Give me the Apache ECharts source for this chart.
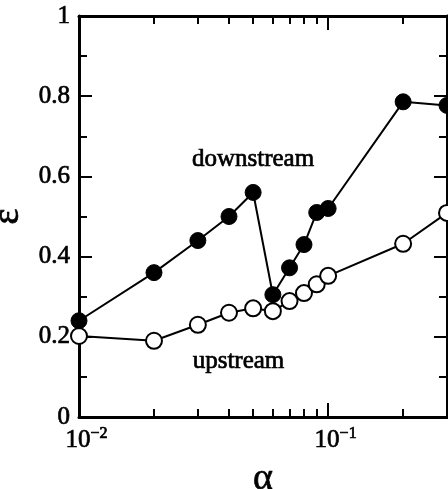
<!DOCTYPE html>
<html>
<head>
<meta charset="utf-8">
<script src="https://cdn.jsdelivr.net/npm/echarts@6/dist/echarts.min.js"></script>
<style>
  html, body { margin: 0; padding: 0; background: #fff; }
  #chart { width: 448px; height: 489px; }
</style>
</head>
<body>
<div id="chart"></div>
<script>
// alpha values (log scale) shared by both curves
const alpha = [0.01, 0.02, 0.03, 0.04, 0.05, 0.06, 0.07, 0.08, 0.09, 0.1, 0.2, 0.3];
// epsilon, downstream side (filled markers)
const epsDownstream = [0.24, 0.36, 0.44, 0.50, 0.56, 0.305, 0.372, 0.43, 0.51, 0.52, 0.786, 0.777];
// epsilon, upstream side (open markers)
const epsUpstream = [0.202, 0.19, 0.23, 0.26, 0.271, 0.264, 0.289, 0.309, 0.331, 0.352, 0.432, 0.509];

// axis ticks
const xMajorTicks = [0.01, 0.1];
const xMinorTicks = [0.02, 0.03, 0.04, 0.05, 0.06, 0.07, 0.08, 0.09, 0.2];
const xLabelValues = [0.01, 0.1];

const FONT = '"Liberation Serif", "DejaVu Serif", serif';
const ink = '#000';
// a hairline outline gives the serif text a slightly heavier print weight
const heavy = { textBorderColor: ink, textBorderWidth: 0.7 };

function pairs(xs, ys) { return xs.map((x, i) => [x, ys[i]]); }

// "10" with a superscript exponent; the left pad keeps the "10" centred on its tick
function powerLabel(v) {
  const e = Math.round(Math.log10(v));
  return '{b|10}{s|' + (e < 0 ? '\u2212' : '') + Math.abs(e) + '}';
}

const baseX = {
  type: 'log', logBase: 10, min: 0.01, max: 0.3, gridIndex: 0,
  splitLine: { show: false }, minorTick: { show: false }
};
const baseY = {
  type: 'value', min: 0, max: 1, interval: 0.2, gridIndex: 0,
  splitLine: { show: false }, minorSplitLine: { show: false }
};

const chart = echarts.init(document.getElementById('chart'));
chart.setOption({
  animation: false,
  backgroundColor: '#fff',
  grid: { left: 79, right: 1, top: 16, bottom: 72, containLabel: false, outerBoundsMode: 'none' },
  xAxis: [
    Object.assign({}, baseX, {
      position: 'bottom',
      name: '\u03b1', nameLocation: 'middle', nameGap: 43,
      nameTextStyle: Object.assign({ fontFamily: FONT, fontSize: 38, color: ink }, heavy),
      axisLine: { show: true, lineStyle: { color: ink, width: 3 } },
      axisTick: { show: true, inside: true, length: 14, customValues: xMajorTicks, lineStyle: { color: ink, width: 2 } },
      axisLabel: Object.assign({
        show: true, customValues: xLabelValues, margin: 9,
        formatter: powerLabel,
        fontFamily: FONT, fontSize: 25, color: ink,
        rich: {
          b: Object.assign({ fontFamily: FONT, fontSize: 25, color: ink, padding: [0, 0, 0, 15] }, heavy),
          s: Object.assign({ fontFamily: FONT, fontSize: 16, color: ink, verticalAlign: 'top', padding: [0, 0, 12, 0] }, heavy)
        }
      }, heavy)
    }),
    Object.assign({}, baseX, {
      position: 'bottom',
      axisLine: { show: false },
      axisTick: { show: true, inside: true, length: 8, customValues: xMinorTicks, lineStyle: { color: ink, width: 2 } },
      axisLabel: { show: false }
    }),
    Object.assign({}, baseX, {
      position: 'top',
      axisLine: { show: true, lineStyle: { color: ink, width: 3 } },
      axisTick: { show: true, inside: true, length: 14, customValues: xMajorTicks, lineStyle: { color: ink, width: 2 } },
      axisLabel: { show: false }
    }),
    Object.assign({}, baseX, {
      position: 'top',
      axisLine: { show: false },
      axisTick: { show: true, inside: true, length: 8, customValues: xMinorTicks, lineStyle: { color: ink, width: 2 } },
      axisLabel: { show: false }
    })
  ],
  yAxis: [
    Object.assign({}, baseY, {
      position: 'left',
      name: '\u03b5', nameLocation: 'middle', nameGap: 48, nameRotate: 90,
      nameTextStyle: Object.assign({ fontFamily: FONT, fontSize: 38, color: ink }, heavy),
      axisLine: { show: true, lineStyle: { color: ink, width: 3 } },
      axisTick: { show: true, inside: true, length: 13, lineStyle: { color: ink, width: 2 } },
      minorTick: { show: true, splitNumber: 2, length: 8, lineStyle: { color: ink, width: 2 } },
      axisLabel: Object.assign({ show: true, margin: 9, fontFamily: FONT, fontSize: 25, color: ink }, heavy)
    }),
    Object.assign({}, baseY, {
      position: 'right',
      axisLine: { show: true, lineStyle: { color: ink, width: 3 } },
      axisTick: { show: true, inside: true, length: 13, lineStyle: { color: ink, width: 2 } },
      minorTick: { show: true, splitNumber: 2, length: 8, lineStyle: { color: ink, width: 2 } },
      axisLabel: { show: false }
    })
  ],
  graphic: [
    { type: 'text', x: 253, y: 159, style: { text: 'downstream', font: '25px ' + FONT, fill: ink, stroke: ink, lineWidth: 0.7, align: 'center', verticalAlign: 'middle' } },
    { type: 'text', x: 238.5, y: 361, style: { text: 'upstream', font: '25px ' + FONT, fill: ink, stroke: ink, lineWidth: 0.7, align: 'center', verticalAlign: 'middle' } }
  ],
  series: [
    {
      name: 'upstream', type: 'line', xAxisIndex: 0, yAxisIndex: 0,
      data: pairs(alpha, epsUpstream),
      symbol: 'circle', symbolSize: 16,
      lineStyle: { color: ink, width: 2 },
      itemStyle: { color: '#fff', borderColor: ink, borderWidth: 2 },
      z: 3
    },
    {
      name: 'downstream', type: 'line', xAxisIndex: 0, yAxisIndex: 0,
      data: pairs(alpha, epsDownstream),
      symbol: 'circle', symbolSize: 16,
      lineStyle: { color: ink, width: 2 },
      itemStyle: { color: ink, borderColor: ink, borderWidth: 1 },
      z: 4
    }
  ]
});
</script>
</body>
</html>
